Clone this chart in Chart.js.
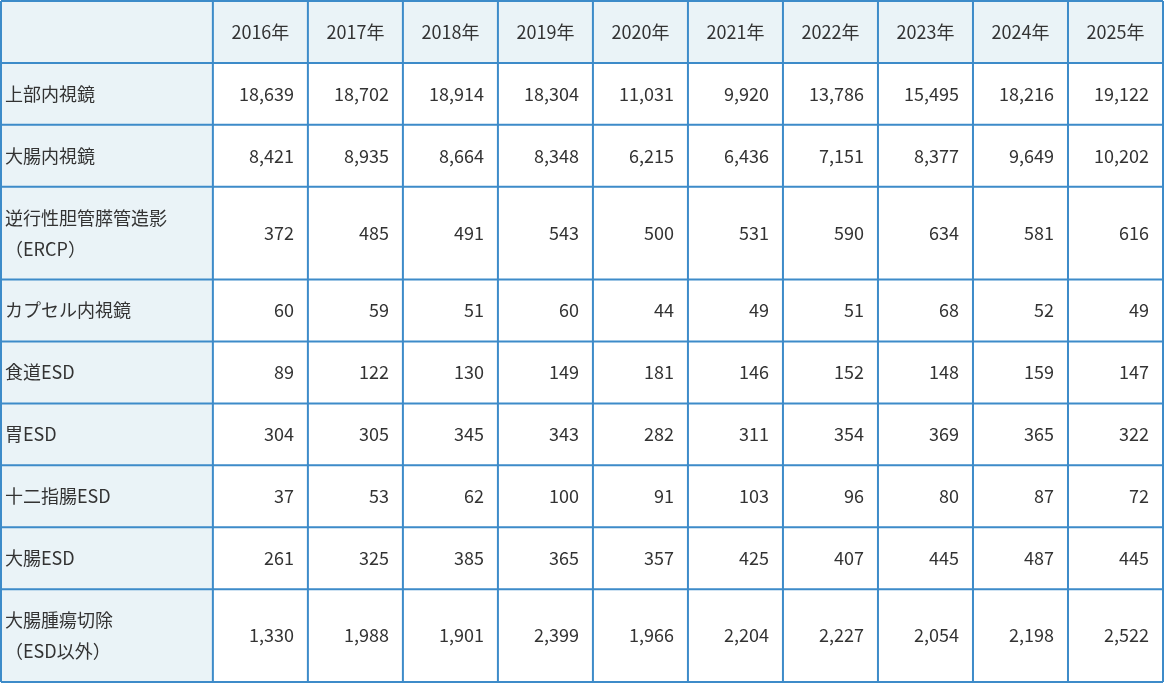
<!DOCTYPE html>
<html><head><meta charset="utf-8">
<script src="https://cdn.jsdelivr.net/npm/chart.js@4"></script>
<style>html,body{margin:0;padding:0;background:#fff}#w{width:1164px;height:684px}</style>
</head><body><div id="w"><canvas id="c"></canvas></div>
<script>
const years = ["2016年","2017年","2018年","2019年","2020年","2021年","2022年","2023年","2024年","2025年"];
const rowLabels = [
  ["上部内視鏡"],["大腸内視鏡"],["逆行性胆管膵管造影","（ERCP）"],["カプセル内視鏡"],
  ["食道ESD"],["胃ESD"],["十二指腸ESD"],["大腸ESD"],["大腸腫瘍切除","（ESD以外）"]
];
const upperGI = [18639,18702,18914,18304,11031,9920,13786,15495,18216,19122];
const colon = [8421,8935,8664,8348,6215,6436,7151,8377,9649,10202];
const ercp = [372,485,491,543,500,531,590,634,581,616];
const capsule = [60,59,51,60,44,49,51,68,52,49];
const esophESD = [89,122,130,149,181,146,152,148,159,147];
const gastricESD = [304,305,345,343,282,311,354,369,365,322];
const duodenalESD = [37,53,62,100,91,103,96,80,87,72];
const colonESD = [261,325,385,365,357,425,407,445,487,445];
const colonResection = [1330,1988,1901,2399,1966,2204,2227,2054,2198,2522];
const rows = [upperGI,colon,ercp,capsule,esophESD,gastricESD,duodenalESD,colonESD,colonResection];

const firstColW = 2.23;
const xMax = firstColW + years.length;
const rowUnits = rowLabels.map(l => l.length > 1 ? 3 : 2);
const yMax = 2 + rowUnits.reduce((a,b)=>a+b,0);

const tablePlugin = {
  id:'table',
  beforeDatasetsDraw(chart){
    const ctx = chart.ctx, xs = chart.scales.x, ys = chart.scales.y;
    const X = v => xs.getPixelForValue(v), Y = v => ys.getPixelForValue(v);
    const font = '18px "Noto Sans CJK JP", "Noto Sans", sans-serif';
    ctx.save();
    ctx.fillStyle = '#eaf3f7';
    ctx.fillRect(X(0), Y(0), X(xMax)-X(0), Y(2)-Y(0));
    ctx.fillRect(X(0), Y(0), X(firstColW)-X(0), Y(yMax)-Y(0));
    ctx.font = font; ctx.fillStyle = '#333'; ctx.textBaseline = 'middle';
    // header
    ctx.textAlign = 'center';
    years.forEach((y,i)=>{
      ctx.fillText(y, (X(firstColW+i)+X(firstColW+i+1))/2, (Y(0)+Y(2))/2);
    });
    let top = 2;
    rows.forEach((vals,r)=>{
      const bot = top + rowUnits[r];
      const mid = (Y(top)+Y(bot))/2;
      ctx.textAlign = 'left';
      const lines = rowLabels[r];
      lines.forEach((t,k)=>{
        ctx.fillText(t, X(0)+4, mid + (k-(lines.length-1)/2)*31);
      });
      ctx.textAlign = 'right';
      vals.forEach((v,i)=>{
        ctx.fillText(v.toLocaleString('en-US'), X(firstColW+i+1)-14, mid);
      });
      top = bot;
    });
    // grid
    ctx.strokeStyle = '#3d8bc9'; ctx.lineWidth = 2;
    ctx.beginPath();
    const vlines = [0, firstColW]; for(let i=1;i<=years.length;i++) vlines.push(firstColW+i);
    vlines.forEach(v=>{ctx.moveTo(X(v),Y(0));ctx.lineTo(X(v),Y(yMax));});
    let h = [0,2]; let acc=2; rowUnits.forEach(u=>{acc+=u;h.push(acc);});
    h.forEach(v=>{ctx.moveTo(X(0),Y(v));ctx.lineTo(X(xMax),Y(v));});
    ctx.stroke();
    ctx.restore();
  }
};

new Chart(document.getElementById('c'), {
  type:'scatter',
  data:{datasets:[{data:[]}]},
  options:{
    responsive:true, maintainAspectRatio:false, animation:false,
    layout:{padding:{left:1,top:1,right:1,bottom:2}},
    plugins:{legend:{display:false},tooltip:{enabled:false}},
    scales:{
      x:{type:'linear',min:0,max:xMax,display:false},
      y:{type:'linear',min:0,max:yMax,reverse:true,display:false}
    }
  },
  plugins:[tablePlugin]
});
</script></body></html>
